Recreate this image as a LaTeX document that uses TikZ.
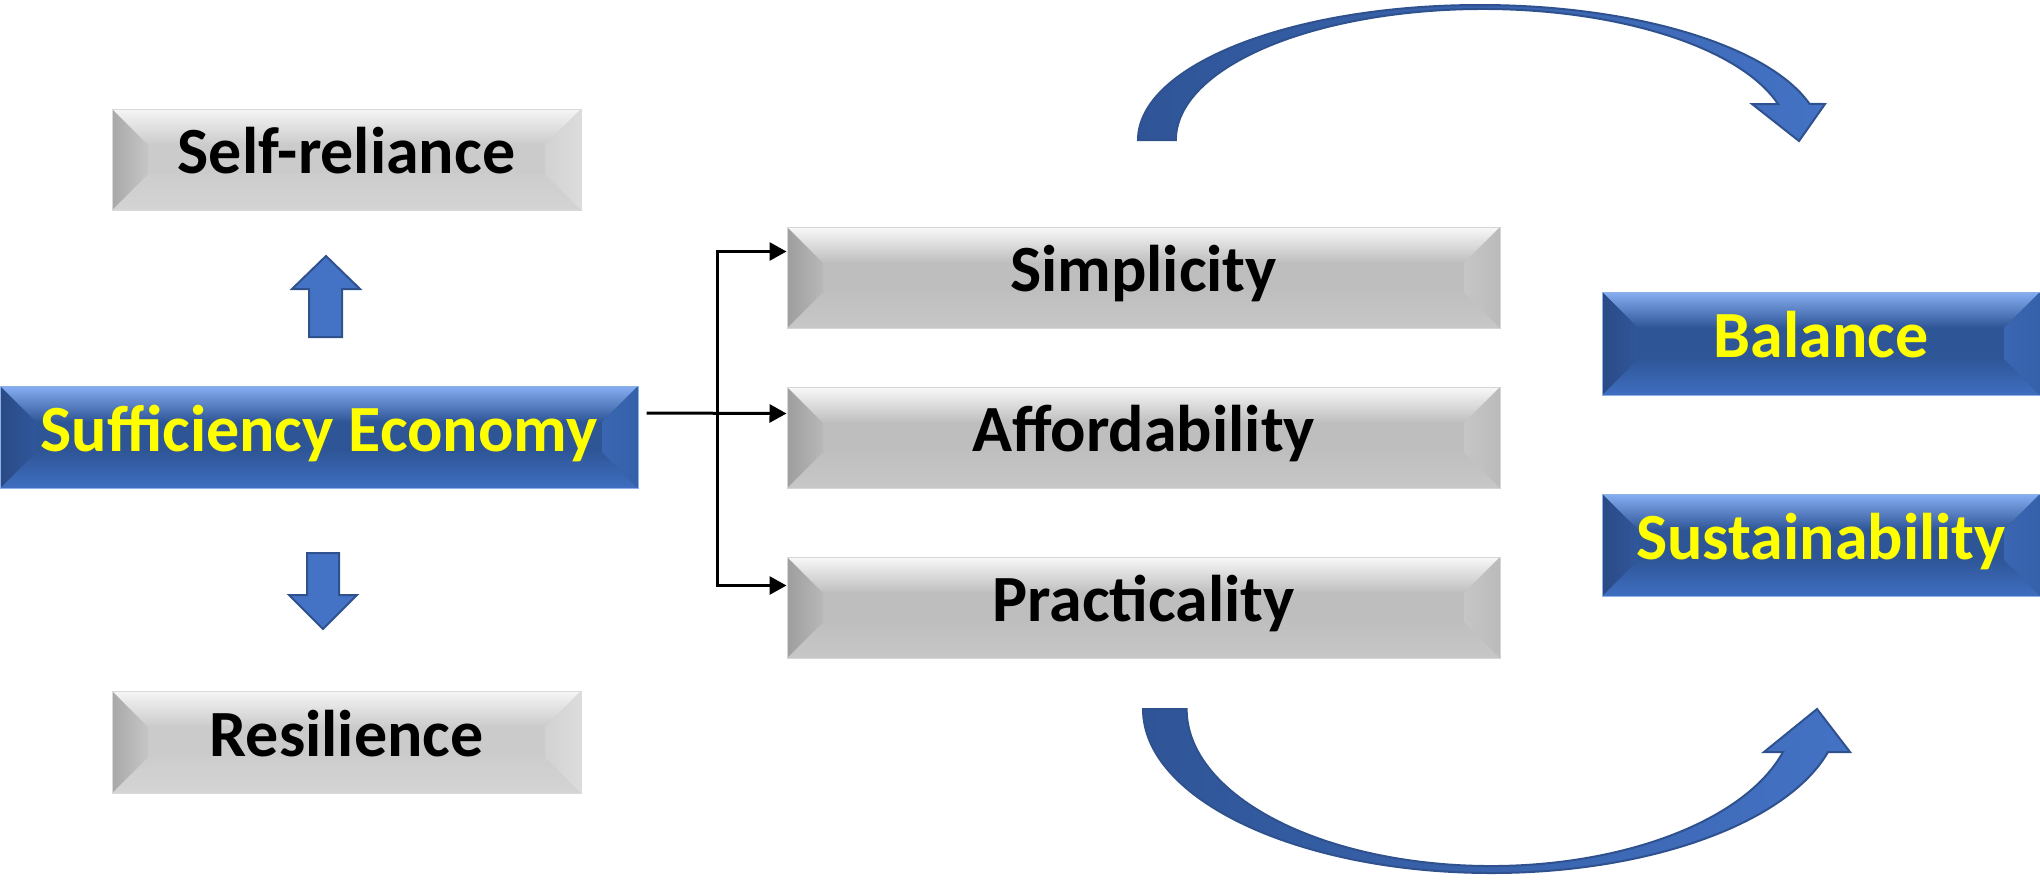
\documentclass[tikz,border=0pt]{standalone}
\usepackage{fontspec}
\setmainfont{Carlito}
\usetikzlibrary{calc,arrows.meta}

\definecolor{gTa}{HTML}{F5F5F5}\definecolor{gTb}{HTML}{D6D6D6}\definecolor{gM}{HTML}{CCCBCC}
\definecolor{gLa}{HTML}{A8A8A8}\definecolor{gLb}{HTML}{C6C6C6}\definecolor{gRa}{HTML}{D2D2D2}
\definecolor{gRb}{HTML}{DCDCDC}\definecolor{gBa}{HTML}{CDCDCD}\definecolor{gBb}{HTML}{D4D4D4}
\definecolor{gEdge}{HTML}{DADADA}
\definecolor{mTa}{HTML}{F8F8F8}\definecolor{mTb}{HTML}{CCCCCC}\definecolor{mM}{HTML}{BEBEBE}
\definecolor{mLa}{HTML}{9E9E9E}\definecolor{mLb}{HTML}{B8B8B8}\definecolor{mRa}{HTML}{C6C6C6}
\definecolor{mRb}{HTML}{BABABA}\definecolor{mBa}{HTML}{BFBFBF}\definecolor{mBb}{HTML}{C7C7C7}
\definecolor{mEdge}{HTML}{D6D6D6}
\definecolor{bTa}{HTML}{86AEF2}\definecolor{bTb}{HTML}{3F6CB8}\definecolor{bM}{HTML}{2E5596}
\definecolor{bLa}{HTML}{2A4A85}\definecolor{bLb}{HTML}{30579B}\definecolor{bRa}{HTML}{3A66B2}
\definecolor{bRb}{HTML}{3461A9}\definecolor{bBa}{HTML}{2F5799}\definecolor{bBb}{HTML}{3F6EC0}
\definecolor{bEdge}{HTML}{8EB0E8}
\definecolor{arFill}{HTML}{4472C4}\definecolor{arDark}{HTML}{2F5597}\definecolor{arEdge}{HTML}{2F528F}
\definecolor{txtYellow}{HTML}{FFFF00}

\def\bvd{36}
% #1 top edge, #2 top middle, #3 face, #4/#5 left face, #6/#7 right face, #8/#9 bottom face
\newcommand\bevfaces[9]{%
  \coordinate (bvnw) at (path picture bounding box.north west);
  \coordinate (bvne) at (path picture bounding box.north east);
  \coordinate (bvsw) at (path picture bounding box.south west);
  \coordinate (bvse) at (path picture bounding box.south east);
  \fill[#3] (bvsw) rectangle (bvne);
  \shade[top color=#1,middle color=#2,bottom color=#3] (bvnw) -- (bvne) -- ($(bvne)+(-\bvd,\bvd)$) -- ($(bvnw)+(\bvd,\bvd)$) -- cycle;
  \shade[top color=#8,bottom color=#9] (bvsw) -- (bvse) -- ($(bvse)+(-\bvd,-\bvd)$) -- ($(bvsw)+(\bvd,-\bvd)$) -- cycle;
  \shade[left color=#4,right color=#5] (bvnw) -- ($(bvnw)+(\bvd,\bvd)$) -- ($(bvsw)+(\bvd,-\bvd)$) -- (bvsw) -- cycle;
  \shade[left color=#6,right color=#7] (bvne) -- ($(bvne)+(-\bvd,\bvd)$) -- ($(bvse)+(-\bvd,-\bvd)$) -- (bvse) -- cycle;
}

\tikzset{
  bx/.style={inner sep=0pt, line width=0.5pt,
    font=\fontsize{33pt}{36pt}\selectfont\bfseries, text height=21pt, text depth=7pt},
  graybox/.style={bx, draw=gEdge, text=black, minimum width=234.5pt, minimum height=50.5pt,
    path picture={\bevfaces{gTa}{gTb}{gM}{gLa}{gLb}{gRa}{gRb}{gBa}{gBb}}},
  midbox/.style={bx, draw=mEdge, text=black, minimum width=356.5pt, minimum height=50.5pt,
    path picture={\bevfaces{mTa}{mTb}{mM}{mLa}{mLb}{mRa}{mRb}{mBa}{mBb}}},
  bluebox/.style={bx, draw=bEdge, text=txtYellow, minimum height=51pt,
    path picture={\bevfaces{bTa}{bTb}{bM}{bLa}{bLb}{bRa}{bRb}{bBa}{bBb}}},
  conn/.style={line width=1.5pt, -{Triangle[length=8.5pt,width=9pt]}},
  blockarrow/.style={fill=arFill, draw=arEdge, line width=1pt, line join=miter},
  curvearrow/.style={draw=arEdge, line width=1pt, left color=arDark, right color=arFill, line join=miter}
}

\begin{document}
\begin{tikzpicture}[x=0.5pt, y=-0.5pt]
\useasboundingbox (0,0) rectangle (2040,880);

% boxes
\node[graybox] (selfrel) at (346.5,159.5) {Self-reliance};
\node[bluebox, minimum width=319pt] (suff) at (319,437) {Sufficiency Economy};
\node[graybox, minimum height=51pt] (resil) at (346.5,742) {Resilience};
\node[midbox] (simp) at (1143.5,277.5) {Simplicity};
\node[midbox] (aff) at (1143.5,437.5) {Affordability};
\node[midbox] (prac) at (1143.5,607.5) {Practicality};
\node[bluebox, minimum width=219pt, minimum height=51.5pt] (bal) at (1821,343.5) {Balance};
\node[bluebox, minimum width=219pt] (sust) at (1821,545) {Sustainability};

% block arrows
\path[blockarrow] (309,337) -- (309,289) -- (292,289) -- (326,256) -- (360,289) -- (342,289) -- (342,337) -- cycle;
\path[blockarrow] (307,553) -- (339,553) -- (339,595) -- (357,595) -- (323,629) -- (289,595) -- (307,595) -- cycle;

% connectors
\coordinate (jn) at (717,413);
\draw[conn] ([xshift=4pt,yshift=12pt]suff.east) -- ([yshift=12pt]aff.west);
\draw[conn] (jn) |- ([yshift=13pt]simp.west);
\draw[conn] (jn) |- ([yshift=11pt]prac.west);

% curved arrows
\path[curvearrow] (1138,140) arc[start angle=180, end angle=15.5, x radius=171pt, y radius=67.5pt]
  -- (1825,104) -- (1799,141) -- (1752,104) -- (1778,104)
  arc[start angle=15.95, end angle=180, x radius=153.5pt, y radius=65.5pt] -- cycle;
\path[curvearrow] (1143,709) arc[start angle=180, end angle=344.8, x radius=174.3pt, y radius=82pt]
  -- (1850,752) -- (1817,709) -- (1764,752) -- (1783,752)
  arc[start angle=344.1, end angle=180, x radius=152pt, y radius=78.5pt] -- cycle;
\end{tikzpicture}
\end{document}
